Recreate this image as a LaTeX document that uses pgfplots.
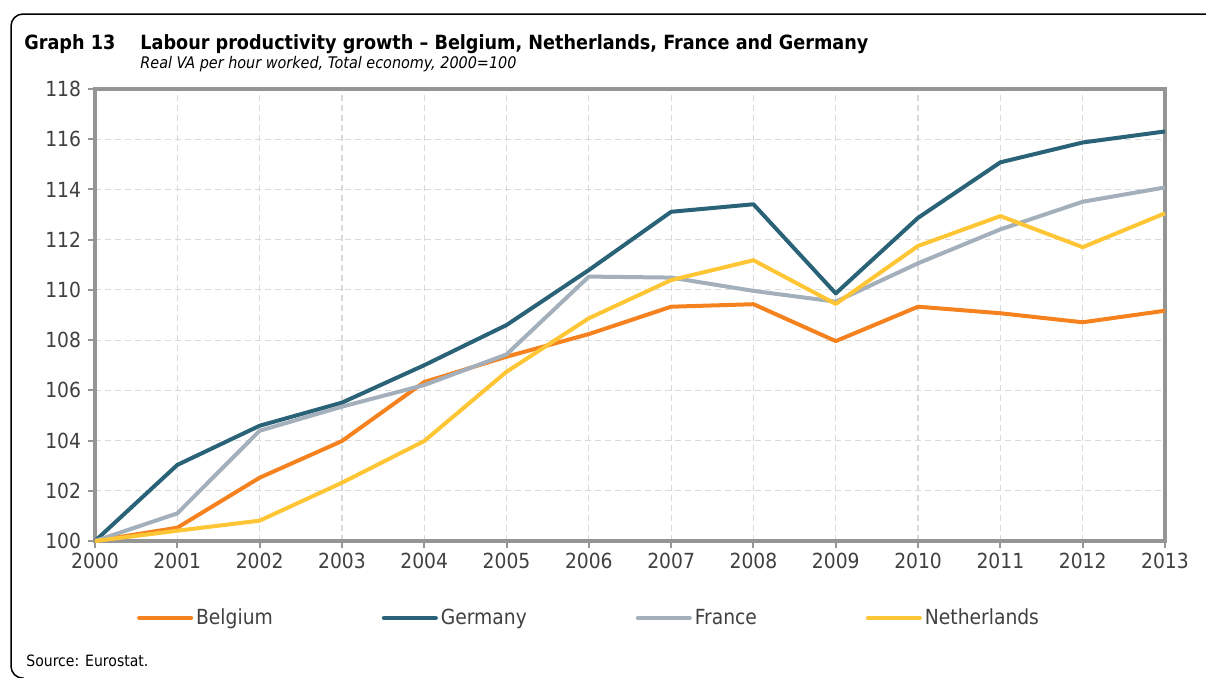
\documentclass[border=0pt]{standalone}
\usepackage{fontspec}
\setmainfont{DejaVu Sans Condensed}
\usepackage{pgfplots}
\pgfplotsset{compat=1.18}
\definecolor{bel}{HTML}{F5821F}
\definecolor{ger}{HTML}{2A6378}
\definecolor{fra}{HTML}{A4AFBC}
\definecolor{ned}{HTML}{FEC535}
\definecolor{axgray}{HTML}{959595}
\definecolor{gridgray}{HTML}{D9D9D9}
\definecolor{txtgray}{HTML}{404040}
\begin{document}
\begin{tikzpicture}
\useasboundingbox (0,0) rectangle (603pt,338.5pt);
\draw[line width=0.75pt, rounded corners=6pt] (640pt,331.5pt) -- (5.5pt,331.5pt) -- (5.5pt,-0.6pt) -- (12pt,-0.6pt);
\node[anchor=base west, inner sep=0pt, font=\bfseries\fontsize{9.8}{11}\selectfont] at (12pt,314pt) {Graph 13};
\node[anchor=base west, inner sep=0pt, font=\bfseries\fontsize{9.8}{11}\selectfont] at (70pt,314pt) {Labour productivity growth -- Belgium, Netherlands, France and Germany};
\node[anchor=base west, inner sep=0pt, font=\itshape\fontsize{8}{9}\selectfont] at (70pt,304.5pt) {Real VA per hour worked, Total economy, 2000=100};
\node[anchor=base west, inner sep=0pt, font=\fontsize{7.8}{9}\selectfont] at (13pt,5.5pt) {Source: Eurostat.};
\begin{axis}[
  at={(47.5pt,68pt)}, anchor=south west,
  scale only axis, width=535pt, height=226pt,
  xmin=2000, xmax=2013, ymin=100, ymax=118,
  xtick={2000,2001,...,2013}, ytick={100,102,...,118},
  /pgf/number format/assume math mode=true,
  /pgf/number format/set thousands separator={},
  grid=major,
  grid style={color=gridgray, line width=0.6pt, dash pattern=on 3pt off 2pt},
  axis line style={line width=1.6pt, color=axgray},
  tick style={line width=1pt, color=axgray},
  tick align=outside, major tick length=3.5pt,
  xtick pos=bottom, ytick pos=left,
  xticklabel style={yshift=1pt},
  ticklabel style={font=\fontsize{10.4}{12}\selectfont, color=txtgray},
  clip=false,
  every axis plot/.append style={line width=2pt, line join=round},
  legend columns=4,
  legend style={at={(0.039,-0.1705)}, anchor=west, draw=none, fill=none, inner sep=0pt,
    font=\fontsize{10.4}{12}\selectfont, text=txtgray,
    nodes={inner xsep=1.5pt, inner ysep=0pt},
    /tikz/every even column/.append style={column sep=53pt}},
  legend image code/.code={\draw[#1, line cap=round] (0pt,0pt) -- (26pt,0pt);},
]
\addplot[color=bel] coordinates {(2000,100) (2001,100.53) (2002,102.52) (2003,103.98) (2004,106.33) (2005,107.34) (2006,108.24) (2007,109.33) (2008,109.43) (2009,107.96) (2010,109.33) (2011,109.07) (2012,108.71) (2013,109.17)};
\addlegendentry{Belgium}
\addplot[color=ger] coordinates {(2000,100) (2001,103.03) (2002,104.59) (2003,105.51) (2004,107.0) (2005,108.6) (2006,110.79) (2007,113.11) (2008,113.41) (2009,109.86) (2010,112.87) (2011,115.08) (2012,115.87) (2013,116.31)};
\addlegendentry{Germany}
\addplot[color=fra] coordinates {(2000,100) (2001,101.1) (2002,104.39) (2003,105.35) (2004,106.21) (2005,107.43) (2006,110.53) (2007,110.49) (2008,109.96) (2009,109.53) (2010,111.06) (2011,112.41) (2012,113.51) (2013,114.08)};
\addlegendentry{France}
\addplot[color=ned] coordinates {(2000,100) (2001,100.41) (2002,100.81) (2003,102.32) (2004,103.98) (2005,106.74) (2006,108.87) (2007,110.39) (2008,111.18) (2009,109.44) (2010,111.75) (2011,112.94) (2012,111.7) (2013,113.05)};
\addlegendentry{Netherlands}
\end{axis}
\end{tikzpicture}
\end{document}
